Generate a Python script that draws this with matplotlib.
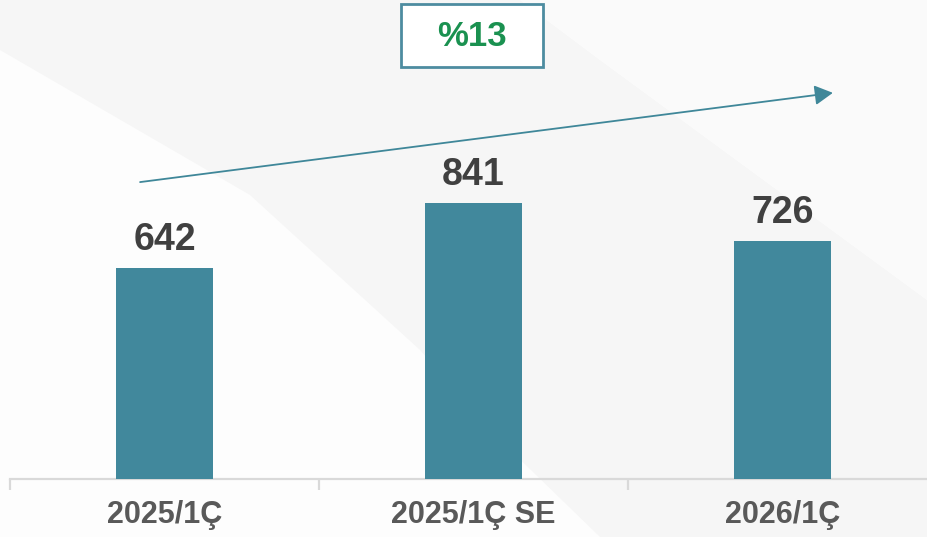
import matplotlib.pyplot as plt
from matplotlib.patches import Polygon, Rectangle

categories = ['2025/1Ç', '2025/1Ç SE', '2026/1Ç']
values = [642, 841, 726]
growth_label = '%13'

bar_color = '#41889C'
plt.rcParams['font.family'] = ['Liberation Sans', 'DejaVu Sans']

W, H = 927, 537
fig = plt.figure(figsize=(W / 100, H / 100), dpi=100)
fig.patch.set_facecolor('#fdfdfd')


def px(points):
    # pixel coords (y down) -> figure fraction
    return [(x / W, 1 - y / H) for x, y in points]


# soft background shapes, kept behind the axes
bg = [
    ([(0, 0), (0, 50), (250, 195), (420, 350), (500, 440), (600, 537),
      (927, 537), (927, 300), (600, 60), (520, 0)], '#f6f6f6'),
    ([(520, 0), (600, 60), (927, 300), (927, 0)], '#fafafa'),
]
for pts, c in bg:
    fig.patches.append(Polygon(px(pts), closed=True, transform=fig.transFigure,
                               facecolor=c, edgecolor='none', zorder=-10))

ax = fig.add_axes([10 / W, 58 / H, 927 / W, 479 / H])
ax.patch.set_alpha(0)

x = range(len(categories))
ax.bar(x, values, width=0.314, color=bar_color, zorder=3)
ax.set_xlim(-0.5, len(categories) - 0.5)
ax.set_ylim(0, 1460)

for i, v in enumerate(values):
    ax.annotate(str(v), (i, v), xytext=(0, 13), textcoords='offset points',
                ha='center', va='baseline', fontsize=27, fontweight='bold', color='#404040')

for s in ['top', 'right', 'left']:
    ax.spines[s].set_visible(False)
ax.spines['bottom'].set_color('#d9d9d9')
ax.spines['bottom'].set_linewidth(1.6)
ax.set_yticks([])
ax.set_xticks(list(x))
ax.set_xticklabels(categories, fontsize=22, fontweight='bold', color='#595959')
ax.tick_params(axis='x', which='major', length=0, pad=15)
ax.set_xticks([i - 0.5 for i in range(len(categories) + 1)], minor=True)
ax.tick_params(axis='x', which='minor', length=8, width=1.6, color='#d9d9d9', direction='out')

# growth arrow
ax.annotate('', xy=(2.163, 1177), xytext=(-0.079, 905),
            arrowprops=dict(arrowstyle='-|>,head_length=0.55,head_width=0.3', mutation_scale=20,
                            color='#3F8799', lw=1.3, shrinkA=0, shrinkB=0))

# growth box
fig.patches.append(Rectangle((401 / W, 1 - 67 / H), 142 / W, 63 / H, transform=fig.transFigure,
                             facecolor='white', edgecolor='#4D8CA0', lw=2, zorder=5))
fig.text(472 / W, 1 - 36 / H, growth_label, ha='center', va='center', fontsize=25,
         fontweight='bold', color='#1A9150', zorder=6)

fig.savefig('out.png', dpi=100)
